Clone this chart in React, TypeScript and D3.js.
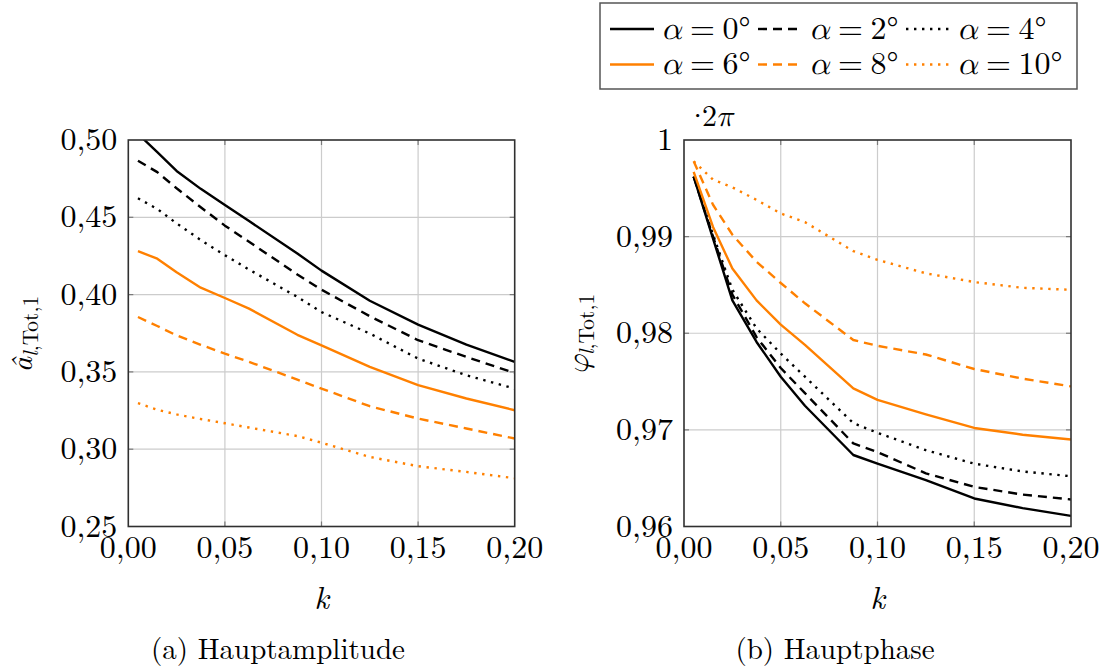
import React from "react";
import * as d3 from "d3";

// Reduced frequency k at which both quantities were evaluated
const kValues = [0.005, 0.015, 0.025, 0.0375, 0.05, 0.0625, 0.0875, 0.1, 0.125, 0.15, 0.175, 0.2];

// Angles of attack (degrees) for the six series
const alphas = [0, 2, 4, 6, 8, 10];

// Main amplitude â_{l,Tot,1}
const amp0 = [0.504, 0.4922, 0.48, 0.4684, 0.458, 0.4476, 0.4266, 0.4155, 0.396, 0.3806, 0.3677, 0.3565];
const amp2 = [0.4866, 0.4792, 0.4688, 0.4565, 0.4446, 0.4342, 0.413, 0.4032, 0.386, 0.3705, 0.3597, 0.3493];
const amp4 = [0.4623, 0.4554, 0.4461, 0.4353, 0.4255, 0.4162, 0.3985, 0.3887, 0.3748, 0.3586, 0.3478, 0.3392];
const amp6 = [0.4281, 0.4232, 0.4144, 0.4045, 0.3978, 0.3909, 0.374, 0.3672, 0.3532, 0.3414, 0.3328, 0.3252];
const amp8 = [0.3855, 0.3797, 0.3736, 0.3675, 0.3618, 0.3565, 0.345, 0.3392, 0.3278, 0.3198, 0.3134, 0.3069];
const amp10 = [0.3298, 0.3255, 0.3225, 0.3195, 0.3168, 0.314, 0.3085, 0.3042, 0.295, 0.289, 0.2853, 0.2812];

// Main phase φ_{l,Tot,1} in units of 2π
const ph0 = [0.9962, 0.9898, 0.9834, 0.9791, 0.9755, 0.9725, 0.9674, 0.9665, 0.9648, 0.9629, 0.9619, 0.9611];
const ph2 = [0.9962, 0.99, 0.984, 0.9796, 0.9764, 0.9738, 0.9686, 0.9677, 0.9655, 0.9641, 0.9633, 0.9628];
const ph4 = [0.9962, 0.9902, 0.9845, 0.9805, 0.9779, 0.9755, 0.9707, 0.9697, 0.9679, 0.9665, 0.9657, 0.9652];
const ph6 = [0.9967, 0.991, 0.9867, 0.9834, 0.9809, 0.9788, 0.9743, 0.9731, 0.9716, 0.9702, 0.9695, 0.969];
const ph8 = [0.9978, 0.9933, 0.9902, 0.9874, 0.9852, 0.9831, 0.9793, 0.9787, 0.9778, 0.9763, 0.9753, 0.9745];
const ph10 = [0.9978, 0.9959, 0.9951, 0.9938, 0.9924, 0.9915, 0.9885, 0.9876, 0.9862, 0.9853, 0.9847, 0.9845];

const ampSeries = [amp0, amp2, amp4, amp6, amp8, amp10];
const phaseSeries = [ph0, ph2, ph4, ph6, ph8, ph10];

const xTicks = [0, 0.05, 0.1, 0.15, 0.2];
const ampTicks = [0.25, 0.3, 0.35, 0.4, 0.45, 0.5];
const phaseTicks = [0.96, 0.97, 0.98, 0.99, 1];

const BLACK = "#000000";
const ORANGE = "#ff8000";
const seriesColor = [BLACK, BLACK, BLACK, ORANGE, ORANGE, ORANGE];
const seriesDash = ["none", "9,6", "2.4,5.6", "none", "9,6", "2.4,5.6"];

const FONT = "Latin Modern Roman, Latin Modern Math, Liberation Serif, serif";
const TICK_SIZE = 32;
const LEGEND_SIZE = 32;

const comma = (v: number) => d3.format(".2f")(v).replace(".", ",");
const phaseFmt = (v: number) => (v === 1 ? "1" : comma(v));

type PanelProps = {
  id: string;
  left: number;
  right: number;
  top: number;
  bottom: number;
  yDomain: [number, number];
  yTicks: number[];
  yFmt: (v: number) => string;
  series: number[][];
};

function Panel({ id, left, right, top, bottom, yDomain, yTicks, yFmt, series }: PanelProps) {
  const x = d3.scaleLinear().domain([0, 0.2]).range([left, right]);
  const y = d3.scaleLinear().domain(yDomain).range([bottom, top]);
  const line = d3
    .line<[number, number]>()
    .x((d) => x(d[0]))
    .y((d) => y(d[1]));
  const tickLen = 5;
  return (
    <g>
      <defs>
        <clipPath id={id}>
          <rect x={left} y={top} width={right - left} height={bottom - top} />
        </clipPath>
      </defs>
      {/* grid */}
      {xTicks.slice(1, -1).map((t) => (
        <line key={"gx" + t} x1={x(t)} x2={x(t)} y1={top} y2={bottom} stroke="#cccccc" strokeWidth={1.2} />
      ))}
      {yTicks.slice(1, -1).map((t) => (
        <line key={"gy" + t} x1={left} x2={right} y1={y(t)} y2={y(t)} stroke="#cccccc" strokeWidth={1.2} />
      ))}
      {/* tick marks on all four sides */}
      {xTicks.slice(1, -1).map((t) => (
        <g key={"tx" + t} stroke="#7a7a7a" strokeWidth={1.2}>
          <line x1={x(t)} x2={x(t)} y1={bottom} y2={bottom - tickLen} />
          <line x1={x(t)} x2={x(t)} y1={top} y2={top + tickLen} />
        </g>
      ))}
      {yTicks.slice(1, -1).map((t) => (
        <g key={"ty" + t} stroke="#7a7a7a" strokeWidth={1.2}>
          <line x1={left} x2={left + tickLen} y1={y(t)} y2={y(t)} />
          <line x1={right} x2={right - tickLen} y1={y(t)} y2={y(t)} />
        </g>
      ))}
      {/* curves */}
      <g clipPath={`url(#${id})`}>
        {series.map((vals, i) => (
          <path
            key={"s" + i}
            d={line(kValues.map((k, j) => [k, vals[j]] as [number, number])) || ""}
            fill="none"
            stroke={seriesColor[i]}
            strokeWidth={2.4}
            strokeDasharray={seriesDash[i]}
            strokeLinejoin="round"
          />
        ))}
      </g>
      {/* frame */}
      <rect x={left} y={top} width={right - left} height={bottom - top} fill="none" stroke="#303030" strokeWidth={1.6} />
      {/* tick labels */}
      {xTicks.map((t) => (
        <text key={"lx" + t} x={x(t)} y={bottom + 31} textAnchor="middle" fontFamily={FONT} fontSize={TICK_SIZE}>
          {comma(t)}
        </text>
      ))}
      {yTicks.map((t) => (
        <text key={"ly" + t} x={left - 11} y={y(t) + 10} textAnchor="end" fontFamily={FONT} fontSize={TICK_SIZE}>
          {yFmt(t)}
        </text>
      ))}
      <text x={(left + right) / 2} y={bottom + 82} textAnchor="middle" fontFamily={FONT} fontSize={TICK_SIZE} fontStyle="italic">
        k
      </text>
    </g>
  );
}

function LegendEntry({ i, x, y }: { i: number; x: number; y: number }) {
  return (
    <g fontFamily={FONT} fontSize={LEGEND_SIZE}>
      <line x1={x} x2={x + 44} y1={y} y2={y} stroke={seriesColor[i]} strokeWidth={2.4} strokeDasharray={seriesDash[i]} />
      <text y={y + 9.5}>
        <tspan x={x + 51} fontStyle="italic">
          α
        </tspan>
        <tspan x={x + 80}>=</tspan>
        <tspan x={x + 112.5}>{alphas[i]}°</tspan>
      </text>
    </g>
  );
}

export default function App() {
  const top = 140;
  const bottom = 526.5;
  const legendCols = [610, 758, 906];
  const legendRows = [29, 64.5];
  return (
    <svg
      width={1104}
      height={668}
      style={{ position: "absolute", left: 0, top: 0, background: "#ffffff" }}
      fontFamily={FONT}
    >
      <rect x={0} y={0} width={1104} height={668} fill="#ffffff" />
      <Panel
        id="clip-amp"
        left={128.3}
        right={514.7}
        top={top}
        bottom={bottom}
        yDomain={[0.25, 0.5]}
        yTicks={ampTicks}
        yFmt={comma}
        series={ampSeries}
      />
      <Panel
        id="clip-phase"
        left={684}
        right={1071}
        top={top}
        bottom={bottom}
        yDomain={[0.96, 1]}
        yTicks={phaseTicks}
        yFmt={phaseFmt}
        series={phaseSeries}
      />
      {/* y axis titles */}
      <text transform="translate(32,334) rotate(-90)" textAnchor="middle" fontSize={30}>
        <tspan fontStyle="italic">â</tspan>
        <tspan fontSize={21.5} dy={6}>
          <tspan fontStyle="italic">l</tspan>,Tot,1
        </tspan>
      </text>
      <text transform="translate(588,334) rotate(-90)" textAnchor="middle" fontSize={30}>
        <tspan fontStyle="italic">φ</tspan>
        <tspan fontSize={21.5} dy={6}>
          <tspan fontStyle="italic">l</tspan>,Tot,1
        </tspan>
      </text>
      {/* scale factor of the phase axis */}
      <text y={126} fontSize={30}>
        <tspan x={686}>·</tspan>
        <tspan x={702}>2</tspan>
        <tspan x={716} fontStyle="italic">
          π
        </tspan>
      </text>
      {/* legend */}
      <rect x={600} y={3} width={477} height={86} fill="#ffffff" stroke="#555555" strokeWidth={1.5} />
      {alphas.map((_, i) => (
        <LegendEntry key={"lg" + i} i={i} x={legendCols[i % 3]} y={legendRows[Math.floor(i / 3)]} />
      ))}
      {/* sub-captions */}
      <text x={278} y={659} textAnchor="middle" fontSize={29}>
        (a) Hauptamplitude
      </text>
      <text x={835} y={659} textAnchor="middle" fontSize={29}>
        (b) Hauptphase
      </text>
    </svg>
  );
}
